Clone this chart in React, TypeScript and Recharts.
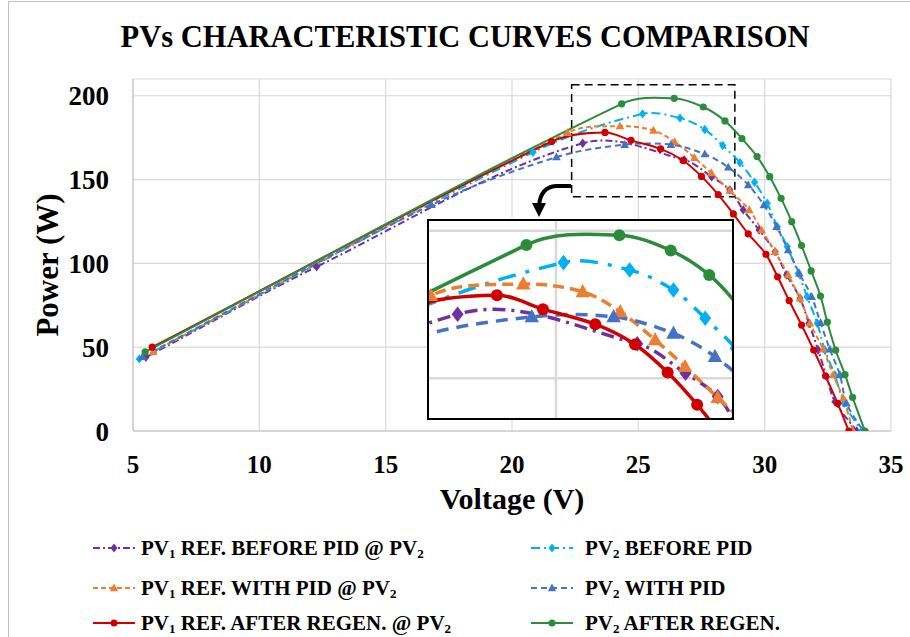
import React from 'react';
import { LineChart, Line, XAxis, YAxis, CartesianGrid, ReferenceArea, ReferenceLine } from 'recharts';

// voltage (V) / power (W)
const pv1BeforeV = [5.51, 12.27, 22.8, 26.82, 27.9, 28.62, 29.15, 29.78, 30.41, 30.87, 31.4, 31.75, 32.12, 32.45, 32.78, 33.64];
const pv1BeforeP = [44, 98, 171.7, 161.7, 151.7, 143.8, 131.9, 119.9, 107, 93.1, 79.2, 64.3, 48.3, 32.4, 17.5, 0];

const pv2BeforeV = [5.25, 20.83, 25.17, 26.65, 27.63, 28.34, 29.02, 29.6, 30.1, 30.5, 30.89, 31.33, 31.68, 32.08, 32.38, 32.78, 33.14, 33.84];
const pv2BeforeP = [43, 166.3, 189.2, 186.7, 179.9, 170.3, 160.1, 148.4, 135.9, 121.9, 110, 94.1, 80.1, 64.3, 48.3, 33.4, 16.5, 0];

const pv1WithV = [5.8, 22.2, 24.27, 25.6, 26.44, 27.22, 27.89, 28.62, 29.39, 29.88, 30.41, 30.93, 31.4, 31.79, 32.32, 32.71, 33.11, 33.5];
const pv1WithP = [47.3, 178, 181.9, 179.3, 172.5, 163, 153.9, 143.4, 131.9, 119.9, 107, 93.1, 79.2, 64.3, 48.7, 33.4, 19.5, 0];

const pv2WithV = [5.38, 16.81, 21.76, 24.46, 26.29, 27.63, 28.56, 29.35, 29.97, 30.47, 30.93, 31.37, 31.86, 32.21, 32.58, 32.98, 33.24, 33.9];
const pv2WithP = [44.3, 134.9, 163.4, 170.8, 170.8, 165.2, 157.3, 146.8, 134.8, 121.9, 108, 94.1, 80.1, 64.6, 48.7, 33.4, 16.5, 0];

const pv1AfterV = [5.76, 21.57, 23.68, 24.71, 25.88, 26.77, 27.5, 28.16, 28.76, 29.35, 30.05, 30.51, 30.97, 31.46, 31.94, 32.41, 32.89, 33.33];
const pv1AfterP = [50, 172.7, 178.1, 173.4, 168.3, 161.4, 151.9, 141, 129.5, 117.6, 105.4, 92, 77.8, 63.2, 48.3, 32.8, 16.5, 0];

const pv2AfterV = [5.48, 24.34, 26.42, 27.57, 28.43, 29.1, 29.7, 30.2, 30.65, 31.07, 31.46, 31.84, 32.21, 32.48, 32.81, 33.18, 33.48, 33.97];
const pv2AfterP = [47.2, 195.2, 198.5, 193.3, 185, 174.4, 163.7, 151.7, 138.8, 124.9, 110.6, 95.5, 80.5, 64.9, 48.2, 33.6, 20.1, 0];

const xTicks = [5, 10, 15, 20, 25, 30, 35];
const yTicks = [0, 50, 100, 150, 200];

// zoomed window (dashed box) and what the inset shows
const zoomV = [22.36, 28.82];
const zoomP = [139.8, 206.5];
const insetV = [22.16, 28.94];
const insetP = [136.5, 203.3];

const pts = (v: number[], p: number[]) => v.map((x, i) => ({ v: x, p: p[i] }));

// Excel-like smoothed line: tangent along the neighbour chord, length scaled per segment (no loops)
const smooth: any = (context: any) => {
  let xs: number[] = [];
  let ys: number[] = [];
  return {
    areaStart() {},
    areaEnd() {},
    lineStart() { xs = []; ys = []; },
    point(x: number, y: number) { xs.push(+x); ys.push(+y); },
    lineEnd() {
      const n = xs.length;
      if (!n) return;
      const dir = (i: number) => {
        const a = Math.max(i - 1, 0);
        const b = Math.min(i + 1, n - 1);
        const dx = xs[b] - xs[a];
        const dy = ys[b] - ys[a];
        const l = Math.hypot(dx, dy) || 1;
        return [dx / l, dy / l];
      };
      context.moveTo(xs[0], ys[0]);
      for (let i = 0; i < n - 1; i++) {
        const seg = Math.hypot(xs[i + 1] - xs[i], ys[i + 1] - ys[i]) / 3;
        const d0 = dir(i);
        const d1 = dir(i + 1);
        context.bezierCurveTo(
          xs[i] + d0[0] * seg, ys[i] + d0[1] * seg,
          xs[i + 1] - d1[0] * seg, ys[i + 1] - d1[1] * seg,
          xs[i + 1], ys[i + 1],
        );
      }
    },
  };
};

const series = [
  { key: 'b1', data: pts(pv1BeforeV, pv1BeforeP), color: '#7030A0', dash: '7 3 2 3', bigDash: '13 6 3 6', shape: 'diamond' },
  { key: 'b2', data: pts(pv2BeforeV, pv2BeforeP), color: '#00B0F0', dash: '9 4 2 4', bigDash: '18 10 4 10', shape: 'diamond' },
  { key: 'w1', data: pts(pv1WithV, pv1WithP), color: '#ED7D31', dash: '5 3', bigDash: '11 6', shape: 'triangle' },
  { key: 'w2', data: pts(pv2WithV, pv2WithP), color: '#4472C4', dash: '6 4', bigDash: '12 8', shape: 'triangle' },
  { key: 'a1', data: pts(pv1AfterV, pv1AfterP), color: '#D00000', dash: undefined, bigDash: undefined, shape: 'circle' },
  { key: 'a2', data: pts(pv2AfterV, pv2AfterP), color: '#2B8C3B', dash: undefined, bigDash: undefined, shape: 'circle' },
];

const legendItems = [
  { s: 0, label: <>PV<sub>1</sub> REF. BEFORE PID @ PV<sub>2</sub></> },
  { s: 1, label: <>PV<sub>2</sub> BEFORE PID</> },
  { s: 2, label: <>PV<sub>1</sub> REF. WITH PID @ PV<sub>2</sub></> },
  { s: 3, label: <>PV<sub>2</sub> WITH PID</> },
  { s: 4, label: <>PV<sub>1</sub> REF. AFTER REGEN. @ PV<sub>2</sub></> },
  { s: 5, label: <>PV<sub>2</sub> AFTER REGEN.</> },
];
const legendRowTop = [536, 576, 611];

const serif = '"Liberation Serif", "Times New Roman", serif';

const Marker = ({ cx, cy, shape, color, r }: any) => {
  if (shape === 'circle') return <circle cx={cx} cy={cy} r={r} fill={color} />;
  if (shape === 'diamond')
    return <polygon points={`${cx},${cy - r * 1.3} ${cx + r},${cy} ${cx},${cy + r * 1.3} ${cx - r},${cy}`} fill={color} />;
  return <polygon points={`${cx},${cy - r * 1.3} ${cx + r * 1.2},${cy + r * 0.9} ${cx - r * 1.2},${cy + r * 0.9}`} fill={color} />;
};

const dotFor = (shape: string, color: string, r: number) => (props: any) => {
  const { cx, cy, index } = props;
  if (cx == null || cy == null) return <g key={index} />;
  return <Marker key={index} cx={cx} cy={cy} shape={shape} color={color} r={r} />;
};

const tickY = { fontFamily: serif, fontWeight: 700, fontSize: 27, fill: '#000' };
const tickX = { fontFamily: serif, fontWeight: 700, fontSize: 25, fill: '#000' };

const LegendSym = ({ s }: { s: number }) => {
  const c = series[s];
  return (
    <svg width={42} height={14} style={{ display: 'block' }}>
      <line x1={0} y1={7} x2={42} y2={7} stroke={c.color} strokeWidth={2} strokeDasharray={c.dash} />
      <Marker cx={21} cy={7} shape={c.shape} color={c.color} r={3.5} />
    </svg>
  );
};

export default function App() {
  return (
    <div style={{ position: 'absolute', left: 0, top: 0, width: 910, height: 637, background: '#fff', overflow: 'hidden' }}>
      <div style={{ position: 'absolute', left: 8, top: 1, width: 920, height: 700, borderLeft: '1px solid #bfbfbf', borderTop: '1px solid #bfbfbf' }} />
      <div style={{ position: 'absolute', left: 0, width: 930, top: 20, textAlign: 'center', fontFamily: serif, fontWeight: 700, fontSize: 30.5, lineHeight: '34px' }}>
        PVs CHARACTERISTIC CURVES COMPARISON
      </div>

      <div style={{ position: 'absolute', left: 0, top: 0 }}>
        <LineChart width={910} height={637} margin={{ top: 79, right: 19, left: 0, bottom: 166 }}>
          <CartesianGrid stroke="#d9d9d9" strokeWidth={1.2} />
          <XAxis dataKey="v" type="number" domain={[5, 35]} ticks={xTicks} allowDataOverflow
            stroke="#bfbfbf" tickLine={false} tickSize={6} tickMargin={18} height={40} tick={tickX} />
          <YAxis type="number" domain={[0, 210]} ticks={yTicks} allowDataOverflow
            stroke="#bfbfbf" tickLine={false} tickSize={6} tickMargin={18} width={133} tick={tickY} />
          {series.map((s) => (
            <Line key={s.key} data={s.data} dataKey="p" type={smooth} stroke={s.color} strokeWidth={2}
              strokeDasharray={s.dash} dot={dotFor(s.shape, s.color, 3.6)} activeDot={false} isAnimationActive={false} />
          ))}
          <ReferenceArea x1={zoomV[0]} x2={zoomV[1]} y1={zoomP[0]} y2={zoomP[1]} fill="none" fillOpacity={0}
            stroke="#000" strokeWidth={1.5} strokeDasharray="8 5" ifOverflow="visible" />
        </LineChart>
      </div>

      {/* curved arrow from the dashed box to the inset */}
      <svg width={910} height={637} style={{ position: 'absolute', left: 0, top: 0, pointerEvents: 'none' }}>
        <path d="M571 186 L556 186 Q541 187 539 205" fill="none" stroke="#000" strokeWidth={4} />
        <polygon points="532,203 546,203 539,217" fill="#000" />
      </svg>

      {/* inset zoom */}
      <div style={{ position: 'absolute', left: 427, top: 219, width: 303, height: 197, border: '2px solid #000', background: '#fff' }}>
        <LineChart width={303} height={197} margin={{ top: 0, right: 0, left: 0, bottom: 0 }}>
          <XAxis dataKey="v" type="number" domain={insetV} allowDataOverflow hide />
          <YAxis type="number" domain={insetP} allowDataOverflow hide />
          <ReferenceLine x={25} stroke="#d9d9d9" strokeWidth={2.5} />
          <ReferenceLine y={150} stroke="#d9d9d9" strokeWidth={2.5} />
          <ReferenceLine y={200} stroke="#d9d9d9" strokeWidth={2.5} />
          {series.map((s) => (
            <Line key={s.key} data={s.data} dataKey="p" type={smooth} stroke={s.color} strokeWidth={3.5}
              strokeDasharray={s.bigDash} dot={dotFor(s.shape, s.color, 6)} activeDot={false} isAnimationActive={false} />
          ))}
        </LineChart>
      </div>

      <div style={{ position: 'absolute', left: 22, top: 265, width: 0, height: 0 }}>
        <div style={{ position: 'absolute', transform: 'translate(-50%, -50%) rotate(-90deg)', whiteSpace: 'nowrap', fontFamily: serif, fontWeight: 700, fontSize: 31, lineHeight: '34px', left: 26, top: 0 }}>
          Power (W)
        </div>
      </div>
      <div style={{ position: 'absolute', left: 312, width: 400, top: 482, textAlign: 'center', fontFamily: serif, fontWeight: 700, fontSize: 30, lineHeight: '34px' }}>
        Voltage (V)
      </div>

      {/* legend */}
      {legendItems.map((it, i) => {
        const col = i % 2;
        const row = Math.floor(i / 2);
        return (
          <div key={i} style={{ position: 'absolute', left: col === 0 ? 93 : 531, top: legendRowTop[row], display: 'flex', alignItems: 'center', gap: col === 0 ? 6 : 12, fontFamily: serif, fontWeight: 700, fontSize: 21, lineHeight: '24px', whiteSpace: 'nowrap' }}>
            <LegendSym s={it.s} />
            <span>{it.label}</span>
          </div>
        );
      })}
      <style>{`sub{font-size:0.62em;vertical-align:-0.2em;line-height:0}`}</style>
    </div>
  );
}
